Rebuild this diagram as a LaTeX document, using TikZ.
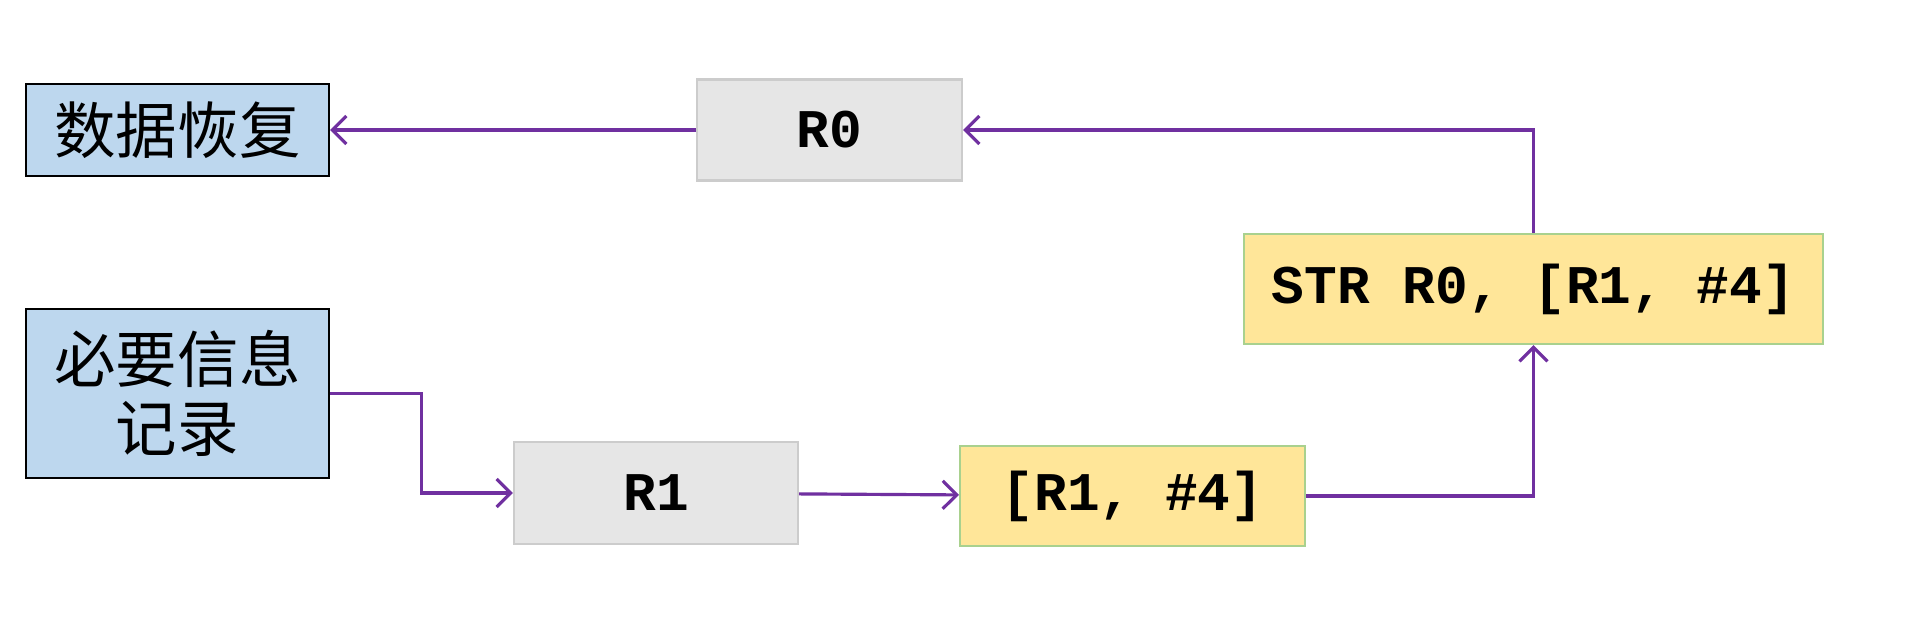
\documentclass[tikz,border=0pt]{standalone}
\usepackage{fontspec}
\setmonofont{Liberation Mono}
\newfontfamily\cjk{Noto Sans CJK SC}
\usepackage{tikz}
\usetikzlibrary{arrows.meta,positioning,calc}
\definecolor{softblue}{HTML}{BDD7EE}
\definecolor{softgray}{HTML}{E6E6E6}
\definecolor{softyellow}{HTML}{FFE699}
\definecolor{edgegray}{HTML}{CCCCCC}
\definecolor{edgegreen}{HTML}{A9D18E}
\definecolor{linepurple}{HTML}{7030A0}
\begin{document}
\begin{tikzpicture}[node distance=7mm,every node/.style={align=center,inner sep=0pt},
  bluebox/.style={draw=black,line width=0.6pt,fill=softblue,minimum width=3.03cm,font=\cjk\fontsize{17.5}{19.5}\selectfont},
  graybox/.style={draw=edgegray,line width=0.6pt,fill=softgray,font=\ttfamily\bfseries\fontsize{15.5}{18}\selectfont},
  yellowbox/.style={draw=edgegreen,line width=0.6pt,fill=softyellow,font=\ttfamily\bfseries\fontsize{15.5}{18}\selectfont},
  arr/.style={draw=linepurple,line width=0.9pt,-{Straight Barb[length=1.4mm,width=2.8mm]}}]
\useasboundingbox (0,0) rectangle (19.2,-6.44);
\node[bluebox,minimum height=0.92cm] (recover) at (1.775,-1.30) {数据恢复};
\node[graybox,minimum width=2.65cm,minimum height=1.01cm,right=3.66cm of recover] (r0) {R0};
\node[bluebox,minimum height=1.69cm,below=1.31cm of recover] (record) {必要信息\\记录};
\node[graybox,minimum width=2.84cm,minimum height=1.02cm] (r1) at (6.56,-4.93) {R1};
\node[yellowbox,minimum width=3.45cm,minimum height=1.00cm] (addr) at (11.325,-4.96) {[R1, \#4]};
\node[yellowbox,minimum width=5.79cm,minimum height=1.10cm] (str) at (15.335,-2.89) {STR R0, [R1, \#4]};
\draw[arr] (r0) -- (recover);
\draw[arr] (str.north) |- (r0);
\draw[arr] (record.east) -| ($(record.east)!0.5!(r1.west)$) |- (r1.west);
\draw[arr] (r1) -- (addr);
\draw[arr] (addr) -| (str);
\end{tikzpicture}
\end{document}
